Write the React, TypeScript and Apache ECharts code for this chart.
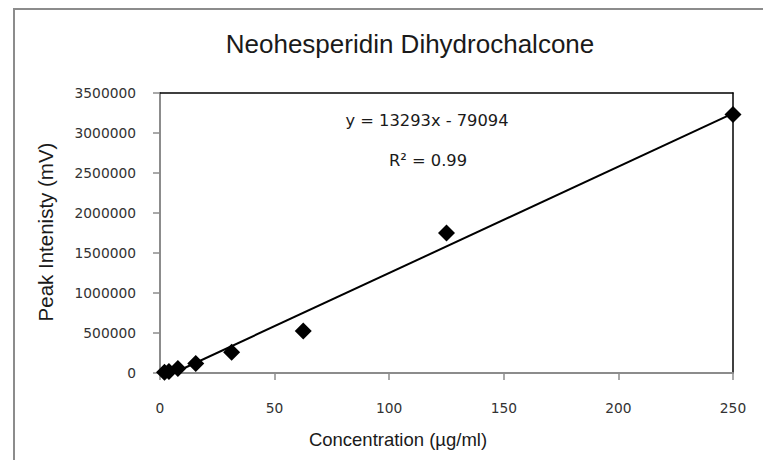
import React, { useEffect, useRef } from "react";
import * as echarts from "echarts";

// Data
const concentration = [1.95, 3.9, 7.8, 15.6, 31.25, 62.5, 125, 250];
const peakIntensity = [10000, 20000, 55000, 120000, 260000, 525000, 1750000, 3230000];
// Linear trendline endpoints (y = 13293x - 79094)
const trendX = [1.95, 250];
const trendY = [-53173, 3244156];

const titleText = "Neohesperidin Dihydrochalcone";
const equationText = "y = 13293x - 79094";
const r2Text = "R\u00B2 = 0.99";
const xName = "Concentration (\u00B5g/ml)";
const yName = "Peak Intenisty (mV)";

const xMin = 0, xMax = 250, xStep = 50;
const yMin = 0, yMax = 3500000, yStep = 500000;

const AXIS_GRAY = "#8c8c8c";
const TICK_FONT = "DejaVu Sans";
const TEXT_FONT = "Liberation Sans";

export default function App() {
  const ref = useRef<HTMLDivElement>(null);

  useEffect(() => {
    if (!ref.current) return;
    const chart = echarts.init(ref.current, undefined, { renderer: "svg" });
    const option: any = {
      animation: false,
      backgroundColor: "#ffffff",
      grid: { left: 160, top: 93, width: 573, height: 280, containLabel: false },
      xAxis: [
        {
          type: "value",
          min: xMin,
          max: xMax,
          interval: xStep,
          position: "bottom",
          axisLine: { show: true, onZero: false, lineStyle: { color: AXIS_GRAY, width: 2 } },
          axisTick: { show: true, length: 7, lineStyle: { color: AXIS_GRAY, width: 1.5 } },
          axisLabel: { margin: 28, fontFamily: TICK_FONT, fontSize: 13.8, color: "#333" },
          splitLine: { show: false },
        },
        {
          type: "value",
          min: xMin,
          max: xMax,
          position: "top",
          axisLine: { show: true, onZero: false, lineStyle: { color: "#000", width: 1.5 } },
          axisTick: { show: false },
          axisLabel: { show: false },
          splitLine: { show: false },
        },
      ],
      yAxis: [
        {
          type: "value",
          min: yMin,
          max: yMax,
          interval: yStep,
          position: "left",
          axisLine: { show: true, onZero: false, lineStyle: { color: AXIS_GRAY, width: 2 } },
          axisTick: { show: true, length: 7, lineStyle: { color: AXIS_GRAY, width: 1.5 } },
          axisLabel: {
            margin: 24,
            fontFamily: TICK_FONT,
            fontSize: 13.8,
            color: "#333",
            formatter: (v: number) => String(v),
          },
          splitLine: { show: false },
        },
        {
          type: "value",
          min: yMin,
          max: yMax,
          position: "right",
          axisLine: { show: true, onZero: false, lineStyle: { color: "#000", width: 1.5 } },
          axisTick: { show: false },
          axisLabel: { show: false },
          splitLine: { show: false },
        },
      ],
      series: [
        {
          type: "line",
          data: trendX.map((x, i) => [x, trendY[i]]),
          symbol: "none",
          lineStyle: { color: "#000", width: 2 },
          clip: false,
          z: 2,
          silent: true,
        },
        {
          type: "scatter",
          data: concentration.map((x, i) => [x, peakIntensity[i]]),
          symbol: "diamond",
          symbolSize: 17,
          itemStyle: { color: "#000", opacity: 1 },
          clip: false,
          z: 3,
        },
      ],
      graphic: [
        {
          type: "line",
          z: -10,
          shape: { x1: 14, y1: 9, x2: 763, y2: 9 },
          style: { stroke: AXIS_GRAY, lineWidth: 2 },
        },
        {
          type: "line",
          z: -10,
          shape: { x1: 14, y1: 8, x2: 14, y2: 460 },
          style: { stroke: AXIS_GRAY, lineWidth: 2 },
        },
        {
          type: "text",
          x: 410,
          y: 44,
          style: {
            text: titleText,
            font: `26px "${TEXT_FONT}"`,
            fill: "#1a1a1a",
            textAlign: "center",
            textVerticalAlign: "middle",
            align: "center",
            verticalAlign: "middle",
          },
        },
        {
          type: "text",
          x: 427,
          y: 120,
          style: {
            text: equationText,
            font: `16.3px "${TICK_FONT}"`,
            fill: "#1a1a1a",
            textAlign: "center",
            textVerticalAlign: "middle",
            align: "center",
            verticalAlign: "middle",
          },
        },
        {
          type: "text",
          x: 428,
          y: 160,
          style: {
            text: r2Text,
            font: `16.3px "${TICK_FONT}"`,
            fill: "#1a1a1a",
            textAlign: "center",
            textVerticalAlign: "middle",
            align: "center",
            verticalAlign: "middle",
          },
        },
        {
          type: "text",
          x: 398,
          y: 439,
          style: {
            text: xName,
            font: `18.5px "${TEXT_FONT}"`,
            fill: "#1a1a1a",
            textAlign: "center",
            textVerticalAlign: "middle",
            align: "center",
            verticalAlign: "middle",
          },
        },
        {
          type: "text",
          x: 45,
          y: 232,
          rotation: Math.PI / 2,
          style: {
            text: yName,
            font: `20.5px "${TEXT_FONT}"`,
            fill: "#1a1a1a",
            textAlign: "center",
            textVerticalAlign: "middle",
            align: "center",
            verticalAlign: "middle",
          },
        },
      ],
    };
    chart.setOption(option);
    return () => chart.dispose();
  }, []);

  return (
    <div
      ref={ref}
      style={{ position: "fixed", left: 0, top: 0, width: 763, height: 460, background: "#fff" }}
    />
  );
}
